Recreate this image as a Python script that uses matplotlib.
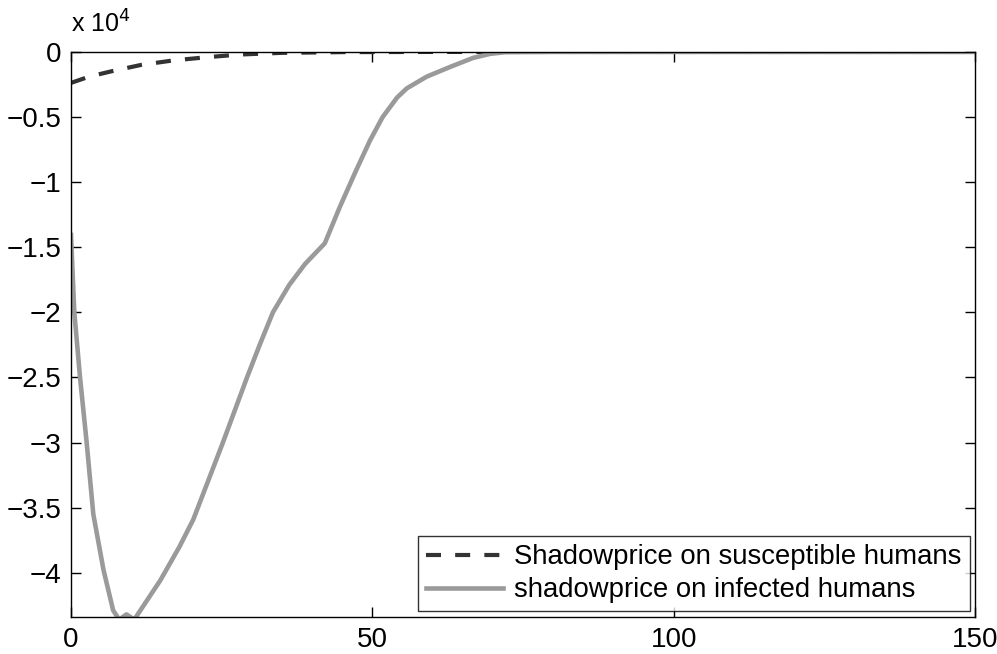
import numpy as np
import matplotlib.pyplot as plt
from matplotlib.ticker import FuncFormatter

plt.rcParams['font.family'] = ['Liberation Sans', 'DejaVu Sans']

# shadow price on susceptible humans (dashed)
t_sus = [0, 3, 6.6, 11.6, 17, 22.7, 28, 35, 45, 60, 80, 150]
p_sus = [-2380, -1900, -1500, -1000, -650, -400, -200, -70, -15, 0, 0, 0]

# shadow price on infected humans (solid)
t_inf = [0, 0.55, 1.5, 2.6, 3.7, 5.4, 7.0, 8.0, 9.2, 10.5, 11.5, 14.8, 18, 20.3,
         25.2, 29.2, 31.3, 33.5, 36.2, 38.8, 42.1, 44.6, 47.1, 49.6, 51.7, 54.1,
         55.7, 59.0, 62.9, 66.7, 69.5, 72, 80, 150]
p_inf = [-14050, -20000, -25000, -30000, -35500, -39800, -42900, -43600, -43200,
         -43600, -42900, -40600, -38000, -35900, -30000, -25000, -22500, -20000,
         -17900, -16300, -14700, -11900, -9300, -6800, -5000, -3500, -2800, -1900,
         -1150, -460, -150, -20, 0, 0]

fig = plt.figure(figsize=(9.97, 6.54), dpi=100)
ax = fig.add_axes([0.0712, 0.0566, 0.907, 0.864])

ax.plot(t_sus, p_sus, color='#333333', lw=3, ls=(0, (3.6, 3.4)),
        label='Shadowprice on susceptible humans')
ax.plot(t_inf, p_inf, color='#9a9a9a', lw=3.3,
        label='shadowprice on infected humans')

ax.set_xlim(0, 150)
ax.set_ylim(-43400, 0)
ax.set_xticks([0, 50, 100, 150])
ax.set_yticks(np.arange(-40000, 1, 5000))
ax.yaxis.set_major_formatter(FuncFormatter(
    lambda v, p: ('%g' % (v / 1e4)).replace('-', '\u2212')))
ax.tick_params(direction='in', length=7, width=1, labelsize=20,
               top=True, right=True, pad=7)
for s in ax.spines.values():
    s.set_linewidth(1)

ax.text(0.0, 1.025, 'x 10$^{4}$', transform=ax.transAxes, fontsize=18,
        ha='left', va='bottom')

leg = ax.legend(loc='lower right', fontsize=19.8, frameon=True, fancybox=False,
                handlelength=2.8, borderaxespad=0.2, labelspacing=0.25,
                handletextpad=0.4, borderpad=0.3)
leg.get_frame().set_edgecolor('black')
leg.get_frame().set_linewidth(1)

fig.savefig('out.png', dpi=100)
